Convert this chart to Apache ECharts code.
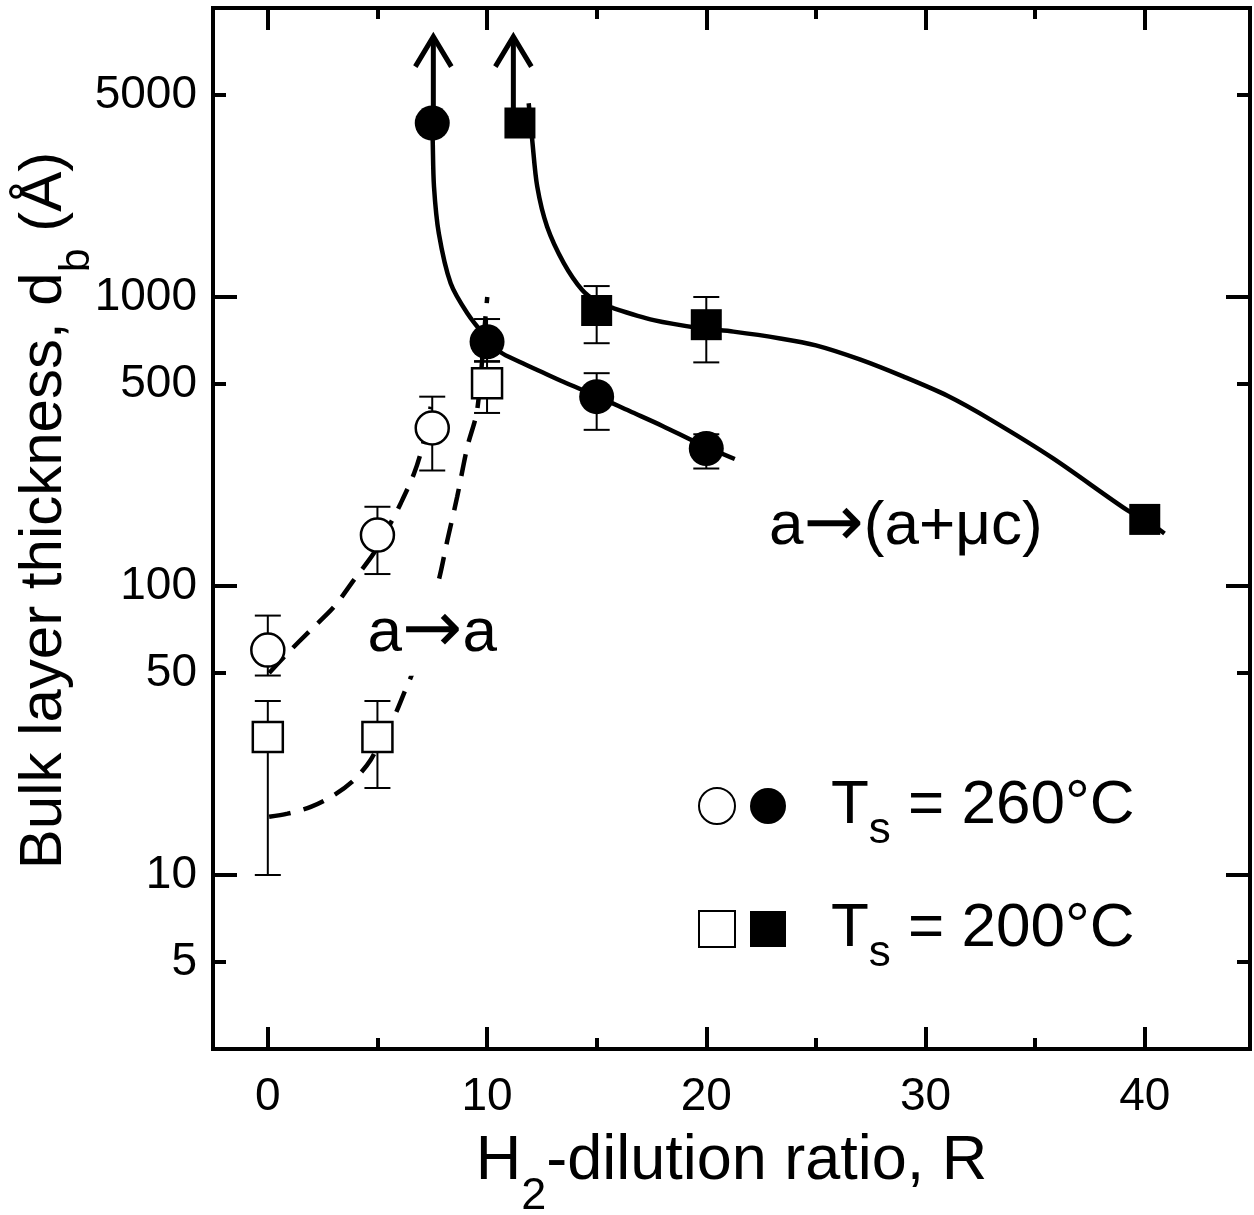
<!DOCTYPE html>
<html><head><meta charset="utf-8">
<script src="https://cdn.jsdelivr.net/npm/echarts@6/dist/echarts.min.js"></script>
<style>html,body{margin:0;padding:0;background:#fff}#c{width:1254px;height:1215px}</style>
</head><body><div id="c"></div>
<script>
const FONT = '"Liberation Sans", Arial, Helvetica, sans-serif';
const ARROW_FONT = '"DejaVu Sans", "Liberation Sans", sans-serif';

// ---- axis ticks ----
const xMajorTicks = [0, 10, 20, 30, 40];
const xMinorTicks = [5, 15, 25, 35];
const yMajorTicks = [10, 100, 1000];
const yMinorTicks = [5, 50, 500, 5000];
const yTickLabels = [5, 10, 50, 100, 500, 1000, 5000];

// ---- measured points: [R, d_b, errLow, errHigh] ----
const open260   = [[0, 60, 49, 79], [5, 150, 110, 188], [7.5, 352, 251, 452]];
const filled260 = [[7.5, 4000, null, null], [10, 700, 600, 839], [15, 452, 347, 545], [20, 299, 255, 335]];
const open200   = [[0, 30, 10, 40], [5, 30, 20, 40], [10, 503, 397, 597]];
const filled200 = [[11.5, 4000, null, null], [15, 898, 692, 1091], [20, 802, 594, 1000], [40, 170, null, null]];

// ---- lower-limit arrows: [R, from, to] ----
const arrows = [[7.55, 4000, 7960], [11.2, 4000, 7960]];

// ---- guide curves ----
const curveFilled260 = [[7.5,4000],[7.52,3500],[7.58,2410],[7.8,1660],[8.34,1115],[9.1,878],[9.93,729],[10.6,645],[11.5,596],[12.5,550],[13.5,508],[15,454],[16.5,403],[18,358],[19.7,310],[21.3,275]];
const curveFilled200 = [[11.9,4680],[12.06,3494],[12.29,2408],[12.74,1750],[13.5,1310],[14.34,1057],[15.02,963],[15.78,914],[17.6,832],[19.73,780],[21.24,759],[23.37,719],[25,680],[27,608],[29,530],[31,455],[33,375],[35.8,277],[39.2,183],[40,170],[40.9,152]];
const curveOpen260 = [[0.06,50],[0.9,58.5],[1.96,70.5],[3.02,84.7],[3.93,105],[4.84,130],[5.6,165],[6.06,193],[6.67,245],[7.05,303],[7.43,417]];
const curveOpen200 = [[0.06,15.9],[0.9,16.3],[1.96,17.2],[3.02,18.9],[3.93,21.3],[4.69,25],[5.3,30.9],[5.76,35.3],[6.21,42.5],[6.67,51.9],[7.8,105],[8.19,144],[8.64,204],[9.1,303],[9.55,406],[9.93,855],[10.01,1000]];

// ---- text ----
const xTitle = ['H', '2', '-dilution ratio, R'];
const yTitle = ['Bulk layer thickness, d', 'b', ' (Å)'];
const legend260 = ['T', 's', ' = 260°C'];
const legend200 = ['T', 's', ' = 200°C'];
// [R, d_b, before arrow, after arrow]
const annotations = [
  [7.5, 70, 'a', 'a'],
  [29.1, 164, 'a', '(a+μc)']
];

const richTitleY = {
  t: {fontSize: 60, fontFamily: FONT, color: '#000', verticalAlign: 'middle'},
  s: {fontSize: 43, fontFamily: FONT, color: '#000', verticalAlign: 'bottom', lineHeight: 110}
};
const richTitleX = {
  t: {fontSize: 63, fontFamily: FONT, color: '#000', verticalAlign: 'middle'},
  s: {fontSize: 45, fontFamily: FONT, color: '#000', verticalAlign: 'bottom', lineHeight: 114}
};
const richLegend = {
  g: {width: 40},
  t: {fontSize: 62, fontFamily: FONT, color: '#000', verticalAlign: 'middle'},
  s: {fontSize: 44, fontFamily: FONT, color: '#000', verticalAlign: 'bottom', lineHeight: 94}
};
const richNote = {
  t: {fontSize: 62, fontFamily: FONT, fill: '#000', verticalAlign: 'middle'},
  a: {fontSize: 72, fontFamily: ARROW_FONT, fill: '#000', verticalAlign: 'middle'}
};
const sub3 = a => '{t|' + a[0] + '}{s|' + a[1] + '}{t|' + a[2] + '}';

const XMIN = -2.5, XMAX = 44.8, YMIN = 2.5, YMAX = 10000;
const black = '#000';
const lineSt = {color: black, width: 4, cap: 'square'};

function xAxis(pos, ticks, len, showLine, showLabel) {
  return {
    type: 'value', position: pos, min: XMIN, max: XMAX, gridIndex: 0,
    axisLine: {show: showLine, onZero: false, lineStyle: lineSt},
    axisTick: {show: true, inside: true, length: len, customValues: ticks, lineStyle: {color: black, width: 4}},
    axisLabel: showLabel ? {show: true, customValues: xMajorTicks, fontSize: 46, fontFamily: FONT, color: black, margin: 25} : {show: false},
    splitLine: {show: false}
  };
}
function yAxis(pos, ticks, len, showLine, showLabel) {
  return {
    type: 'log', logBase: 10, position: pos, min: YMIN, max: YMAX, gridIndex: 0,
    axisLine: {show: showLine, onZero: false, lineStyle: lineSt},
    axisTick: {show: true, inside: true, length: len, customValues: ticks, lineStyle: {color: black, width: 4}},
    axisLabel: showLabel ? {show: true, customValues: yTickLabels, fontSize: 46, fontFamily: FONT, color: black, margin: 16,
      formatter: v => String(Math.round(v))} : {show: false},
    splitLine: {show: false}, minorTick: {show: false}
  };
}

const xA = [xAxis('bottom', xMajorTicks, 22, true, true), xAxis('bottom', xMinorTicks, 11, false, false),
            xAxis('top', xMajorTicks, 22, true, false), xAxis('top', xMinorTicks, 11, false, false)];
xA[0].name = sub3(xTitle); xA[0].nameLocation = 'middle'; xA[0].nameGap = 56; xA[0].nameMoveOverlap = false;
xA[0].nameTextStyle = {rich: richTitleX};
const yA = [yAxis('left', yMajorTicks, 24, true, true), yAxis('left', yMinorTicks, 13, false, false),
            yAxis('right', yMajorTicks, 24, true, false), yAxis('right', yMinorTicks, 13, false, false)];
yA[0].name = sub3(yTitle); yA[0].nameLocation = 'middle'; yA[0].nameGap = 114; yA[0].nameMoveOverlap = false;
yA[0].nameTextStyle = {rich: richTitleY, padding: [0, 0, 0, 36]};

const pts = arr => arr.map(r => [r[0], r[1]]);
const errRows = [].concat(open260, filled260, open200, filled200).filter(r => r[2] != null);

function renderErr(params, api) {
  const x = api.value(0), lo = api.value(2), hi = api.value(3);
  const a = api.coord([x, lo]), b = api.coord([x, hi]);
  const cap = 13, st = {stroke: black, lineWidth: 2};
  return {type: 'group', children: [
    {type: 'line', shape: {x1: a[0], y1: a[1], x2: b[0], y2: b[1]}, style: st},
    {type: 'line', shape: {x1: a[0] - cap, y1: a[1], x2: a[0] + cap, y2: a[1]}, style: st},
    {type: 'line', shape: {x1: b[0] - cap, y1: b[1], x2: b[0] + cap, y2: b[1]}, style: st}
  ]};
}
function renderArrow(params, api) {
  const x = api.value(0);
  const a = api.coord([x, api.value(1)]), b = api.coord([x, api.value(2)]);
  const st = {stroke: black, lineWidth: 5, fill: null};
  return {type: 'group', children: [
    {type: 'line', shape: {x1: a[0], y1: a[1], x2: b[0], y2: b[1] + 2}, style: st},
    {type: 'polyline', shape: {points: [[b[0] - 18, b[1] + 30], [b[0], b[1]], [b[0] + 18, b[1] + 30]]}, style: st}
  ]};
}
function renderNote(params, api) {
  const idx = params.dataIndex;
  const p = api.coord([api.value(0), api.value(1)]);
  const n = annotations[idx];
  return {type: 'text', x: p[0], y: p[1], z2: 10,
    style: {text: '{t|' + n[2] + '}{a|→}{t|' + n[3] + '}', rich: richNote, align: 'center', verticalAlign: 'middle',
      backgroundColor: '#fff', padding: [12, 4, 6, 4]}};
}

function curve(name, data, dashed) {
  return {type: 'line', name: name, data: data, xAxisIndex: 0, yAxisIndex: 0, showSymbol: false, symbol: 'none',
    smooth: 0.3, z: 2, silent: true,
    lineStyle: {color: black, width: 4.5, type: dashed ? [22, 13] : 'solid'}};
}
function marks(name, data, symbol, size, filled) {
  return {type: 'scatter', name: name, data: pts(data), xAxisIndex: 0, yAxisIndex: 0, symbol: symbol, symbolSize: size, z: 4,
    itemStyle: {color: filled ? black : '#fff', borderColor: black, borderWidth: filled ? 0 : 2.5, opacity: 1}};
}

const legendCommon = {
  orient: 'horizontal', padding: 0, itemWidth: 36, itemHeight: 36, itemGap: 14, selectedMode: false,
  textStyle: {rich: richLegend}, inactiveColor: black
};

const option = {
  animation: false,
  backgroundColor: '#fff',
  grid: {left: 213, right: 4, top: 8, bottom: 166, containLabel: false, outerBoundsMode: 'none'},
  xAxis: xA,
  yAxis: yA,
  legend: [
    Object.assign({}, legendCommon, {data: ['open260', 'filled260'], left: 698, top: 775,
      formatter: n => n === 'filled260' ? '{g| }' + sub3(legend260) : ''}),
    Object.assign({}, legendCommon, {data: ['open200', 'filled200'], left: 698, top: 898,
      formatter: n => n === 'filled200' ? '{g| }' + sub3(legend200) : ''})
  ],
  series: [
    {type: 'custom', name: 'errors', renderItem: renderErr, data: errRows, xAxisIndex: 0, yAxisIndex: 0, z: 1, clip: false, silent: true},
    curve('curveOpen260', curveOpen260, true),
    curve('curveOpen200', curveOpen200, true),
    curve('curveFilled260', curveFilled260, false),
    curve('curveFilled200', curveFilled200, false),
    {type: 'custom', name: 'arrows', renderItem: renderArrow, data: arrows, xAxisIndex: 0, yAxisIndex: 0, z: 3, clip: false, silent: true},
    marks('open260', open260, 'circle', 33, false),
    marks('filled260', filled260, 'circle', 35, true),
    marks('open200', open200, 'rect', 30, false),
    marks('filled200', filled200, 'rect', 31, true),
    {type: 'custom', name: 'annotations', renderItem: renderNote, data: annotations.map(n => [n[0], n[1]]),
      xAxisIndex: 0, yAxisIndex: 0, z: 6, clip: false, silent: true}
  ]
};

const chart = echarts.init(document.getElementById('c'), null, {renderer: 'canvas'});
chart.setOption(option);
</script>
</body></html>
